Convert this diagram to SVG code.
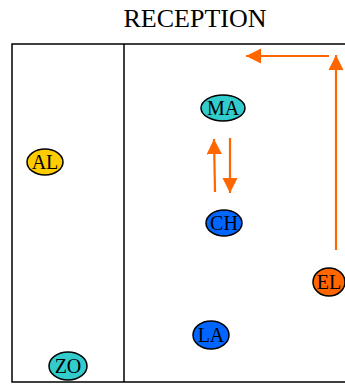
<svg xmlns="http://www.w3.org/2000/svg" width="345" height="387" viewBox="0 0 345 387">
<style>
.frame{fill:none;stroke:#000;stroke-width:1.5}
.node ellipse{stroke:#000;stroke-width:1.5}
.node text{font-family:"Liberation Serif","Times New Roman",serif;font-size:20px;text-anchor:middle;fill:#000}
.title{font-family:"Liberation Serif","Times New Roman",serif;font-size:26px;text-anchor:middle;fill:#000}
.conn{stroke:#FF6600;stroke-width:2.2;fill:none;marker-end:url(#ah)}
</style>
<defs>
<marker id="ah" viewBox="0 0 10 10" refX="10" refY="5" markerWidth="7" markerHeight="7" orient="auto" markerUnits="strokeWidth">
<path d="M0,0 L10,5 L0,10 Z" fill="#FF6600"/>
</marker>
</defs>
<rect width="345" height="387" fill="#fff"/>
<text class="title" x="195" y="27">RECEPTION</text>
<g id="frame" class="frame">
<polyline points="345,44 12,44 12,382 345,382"/>
<line x1="124" y1="44" x2="124" y2="382"/>
</g>
<g id="connectors">
<line class="conn" x1="329" y1="56" x2="246" y2="56"/>
<line class="conn" x1="336" y1="250" x2="336" y2="55"/>
<line class="conn" x1="215" y1="192" x2="214" y2="139"/>
<line class="conn" x1="230" y1="138" x2="230" y2="193"/>
</g>
<g id="MA" class="node"><ellipse cx="223" cy="108" rx="22" ry="13" fill="#33CCCC"/><text x="223" y="115">MA</text></g>
<g id="AL" class="node"><ellipse cx="45" cy="162" rx="18" ry="13" fill="#FFCC00"/><text x="45" y="169">AL</text></g>
<g id="CH" class="node"><ellipse cx="224" cy="223" rx="18" ry="13" fill="#0066FF"/><text x="224" y="230">CH</text></g>
<g id="EL" class="node"><ellipse cx="329" cy="282" rx="16" ry="14" fill="#FF6600"/><text x="329" y="289">EL</text></g>
<g id="LA" class="node"><ellipse cx="211" cy="335" rx="18" ry="14" fill="#0066FF"/><text x="211" y="342">LA</text></g>
<g id="ZO" class="node"><ellipse cx="68" cy="366" rx="19" ry="14" fill="#33CCCC"/><text x="68" y="373">ZO</text></g>
</svg>
